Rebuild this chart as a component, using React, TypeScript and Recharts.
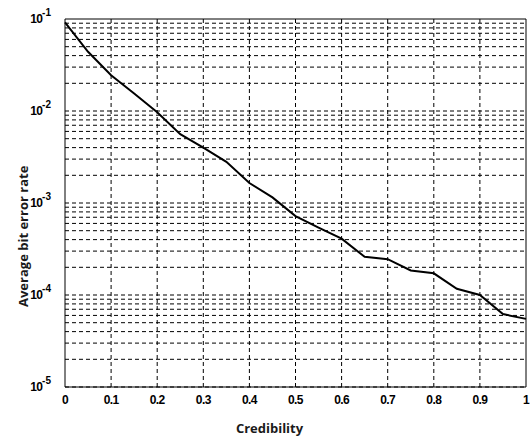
import { LineChart, Line, XAxis, YAxis, ReferenceLine } from 'recharts'

if (typeof document !== 'undefined') document.body.style.margin = '0'

const credibility = [0, 0.05, 0.1, 0.15, 0.2, 0.25, 0.3, 0.35, 0.4, 0.45, 0.5, 0.55, 0.6, 0.65, 0.7, 0.75, 0.8, 0.85, 0.9, 0.95, 1]
const avgBer = [
  0.092, 0.044, 0.0245, 0.0155, 0.0097, 0.0056, 0.004, 0.0028, 0.00165, 0.00115, 0.00072,
  0.00054, 0.00041, 0.00026, 0.000245, 0.000185, 0.000172, 0.000117, 0.0001, 0.000062, 0.000055,
]

const xTicks = [0, 0.1, 0.2, 0.3, 0.4, 0.5, 0.6, 0.7, 0.8, 0.9, 1]
const yTicks = [1e-5, 1e-4, 1e-3, 1e-2, 1e-1]
const yExponents = [-5, -4, -3, -2, -1]
const minorMultipliers = [2, 3, 4, 5, 6, 7, 8, 9]

const data = credibility.map((c, i) => ({ c, ber: avgBer[i] }))

// every horizontal grid value: decades plus 2..9 inside each
const yGrid: number[] = []
yTicks.slice(0, -1).forEach((d) => {
  yGrid.push(d)
  minorMultipliers.forEach((m) => yGrid.push(d * m))
})

const YTick = (props: any) => {
  const { x, y, payload, index } = props
  const exp = yExponents[yTicks.indexOf(payload.value)] ?? yExponents[index]
  return (
    <text
      x={x - 6}
      y={y + 4}
      textAnchor="end"
      fontFamily="Liberation Sans, Arial"
      fontWeight="bold"
      fontSize={12}
      fill="#000"
      letterSpacing={-0.8}
    >
      10
      <tspan dy={-7} fontSize={10} letterSpacing={0}>
        {exp}
      </tspan>
    </text>
  )
}

export default function App() {
  return (
    <div style={{ width: 531, height: 438, background: '#fff' }}>
      <LineChart
        width={531}
        height={438}
        data={data}
        margin={{ top: 19, right: 5, bottom: 0, left: 0 }}
      >
        <XAxis
          dataKey="c"
          type="number"
          domain={[0, 1]}
          ticks={xTicks}
          height={51}
          tickLine={false}
          axisLine={{ stroke: '#000', strokeWidth: 1 }}
          tickMargin={2}
          tick={{ fontSize: 12, fontWeight: 'bold', fill: '#000', fontFamily: 'Liberation Sans, Arial', letterSpacing: -0.6 }}
          tickFormatter={(v: number) => String(v)}
          interval={0}
          label={{
            value: 'Credibility',
            position: 'insideBottom',
            dx: -26,
            offset: 5,
            style: { fontFamily: 'Open Sans', fontWeight: 'bold', fontSize: 13, fill: '#1a1a1a' },
          }}
        />
        <YAxis
          dataKey="ber"
          scale="log"
          domain={[1e-5, 1e-1]}
          ticks={yTicks}
          width={65}
          tickLine={false}
          interval={0}
          allowDataOverflow
          axisLine={{ stroke: '#000', strokeWidth: 1 }}
          tick={<YTick />}
          label={{
            value: 'Average bit error rate',
            angle: -90,
            position: 'insideLeft',
            dx: 18,
            dy: 104,
            style: { fontFamily: 'Open Sans', fontWeight: 'bold', fontSize: 13, fill: '#1a1a1a' },
          }}
        />
        {yGrid.map((v) => (
          <ReferenceLine key={`h-${v}`} y={v} stroke="#000" strokeWidth={1} strokeDasharray="4 3" />
        ))}
        {xTicks.slice(1, -1).map((v) => (
          <ReferenceLine key={`v-${v}`} x={v} stroke="#000" strokeWidth={1} strokeDasharray="4 3" />
        ))}
        <ReferenceLine y={1e-1} stroke="#000" strokeWidth={1} />
        <ReferenceLine x={1} stroke="#000" strokeWidth={1} />
        <Line
          type="linear"
          dataKey="ber"
          stroke="#000"
          strokeWidth={2}
          dot={false}
          isAnimationActive={false}
        />
      </LineChart>
    </div>
  )
}
